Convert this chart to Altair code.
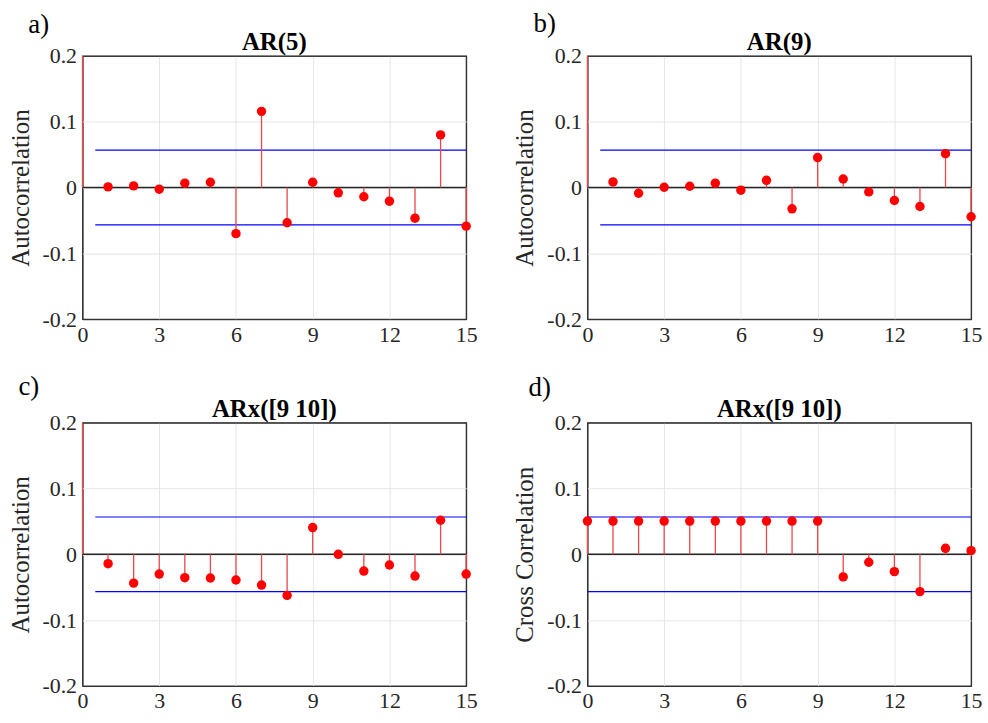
import altair as alt
import pandas as pd

lags = list(range(0, 16))

# lag 0 autocorrelation is 1 (clipped by the axis limits)
acf_ar5 = [1.0, 0.001, 0.0025, -0.0025, 0.0066, 0.008, -0.070, 0.1157, -0.0535,
           0.008, -0.008, -0.014, -0.0207, -0.0465, 0.080, -0.0586]
acf_ar9 = [1.0, 0.0086, -0.0086, 0.0005, 0.002, 0.0066, -0.004, 0.011, -0.0323,
           0.0455, 0.013, -0.0066, -0.0197, -0.0288, 0.0515, -0.0444]
acf_arx = [1.0, -0.0142, -0.0437, -0.030, -0.0355, -0.036, -0.039, -0.0467, -0.0624,
           0.0406, 0.0, -0.0254, -0.0162, -0.033, 0.0518, -0.030]
xcf_arx = [0.0505, 0.0505, 0.0505, 0.0505, 0.0505, 0.0505, 0.0505, 0.0505, 0.0505,
           0.0505, -0.0343, -0.0121, -0.0263, -0.0566, 0.0091, 0.0056]

bound = 0.0567
bound_x_start = [0.5, 0.5, 0.5, 0.0]

panel_letters = ["a)", "b)", "c)", "d)"]
panel_titles = ["AR(5)", "AR(9)", "ARx([9 10])", "ARx([9 10])"]
y_titles = ["Autocorrelation", "Autocorrelation", "Autocorrelation", "Cross Correlation"]
series = [acf_ar5, acf_ar9, acf_arx, xcf_arx]
letter_offsets = [(-44, -31), (-43, -32), (-54, -36), (-48, -35)]

x_ticks = [0, 3, 6, 9, 12, 15]
y_ticks = [-0.2, -0.1, 0, 0.1, 0.2]

FONT = "Liberation Serif"
W, H = 386, 265
FRAME = "#333333"
GRID = "#e6e6e6"
Y_MAX = 0.2

ylabel_expr = ("datum.value == 0 ? '0' : (datum.value < 0 ? '-' + format(-datum.value, '.1f') "
               ": format(datum.value, '.1f'))")


def panel(i):
    df = pd.DataFrame({"lag": lags, "value": series[i], "zero": [0.0] * len(lags)})
    xs = alt.Scale(domain=[0, 15], nice=False, zero=False)
    ys = alt.Scale(domain=[-0.2, 0.2], nice=False)
    x_axis = alt.Axis(values=x_ticks, title=None, labelFont=FONT, labelFontSize=22,
                      labelColor="#262626", grid=True,
                      gridColor=alt.condition("datum.value == 0 || datum.value == 15",
                                              alt.value(FRAME), alt.value(GRID)),
                      ticks=False, domain=False, labelPadding=5, labelFlush=False)
    y_axis = alt.Axis(values=y_ticks, title=y_titles[i], titleFont=FONT, titleFontSize=25,
                      titleFontWeight="normal", titleColor="#262626", titlePadding=9,
                      labelFont=FONT, labelFontSize=22, labelColor="#262626",
                      labelExpr=ylabel_expr, grid=True,
                      gridColor=alt.condition("abs(datum.value) > 0.15",
                                              alt.value(FRAME), alt.value(GRID)),
                      ticks=False, domain=False, labelPadding=6, labelFlush=False)

    base = alt.Chart(df)
    grid = base.mark_point(opacity=0).encode(
        x=alt.X("lag:Q", scale=xs, axis=x_axis),
        y=alt.Y("value:Q", scale=ys, axis=y_axis),
    ).transform_filter(f"datum.value <= {Y_MAX}")

    bdf = pd.DataFrame({"x0": [bound_x_start[i]] * 2, "x1": [15, 15], "b": [bound, -bound]})
    bounds = alt.Chart(bdf).mark_rule(color="#0000ff", strokeWidth=1.2).encode(
        x=alt.X("x0:Q", scale=xs), x2="x1:Q", y=alt.Y("b:Q", scale=ys))

    zdf = pd.DataFrame({"x0": [0], "x1": [15], "z": [0.0]})
    zline = alt.Chart(zdf).mark_rule(color="#262626", strokeWidth=1.6).encode(
        x=alt.X("x0:Q", scale=xs), x2="x1:Q", y=alt.Y("z:Q", scale=ys))

    stems = base.transform_calculate(
        vclip=f"min(datum.value, {Y_MAX})"
    ).mark_rule(color="#e8474c", strokeWidth=1.3).encode(
        x=alt.X("lag:Q", scale=xs), y=alt.Y("zero:Q", scale=ys), y2="vclip:Q")

    dots = base.mark_circle(color="#ff0000", opacity=1, size=90).encode(
        x=alt.X("lag:Q", scale=xs), y=alt.Y("value:Q", scale=ys)
    ).transform_filter(f"datum.value <= {Y_MAX}")

    ldf = pd.DataFrame({"t": [panel_letters[i]], "title": [panel_titles[i]]})
    dx, dy = letter_offsets[i]
    letter = alt.Chart(ldf).mark_text(font=FONT, fontSize=27, color="#000000",
                                      align="center", baseline="middle").encode(
        text="t:N", x=alt.value(dx), y=alt.value(dy))
    title = alt.Chart(ldf).mark_text(font=FONT, fontSize=25, fontWeight="bold",
                                     color="#000000", align="center",
                                     baseline="alphabetic").encode(
        text="title:N", x=alt.value(W / 2), y=alt.value(-6))

    return alt.layer(grid, bounds, zline, stems, dots, letter, title).properties(
        width=W, height=H)


chart = alt.concat(
    panel(0), panel(1), panel(2), panel(3), columns=2,
    spacing=alt.RowColnumber(row=104, column=122), bounds="flush",
).configure_view(
    stroke=FRAME, strokeWidth=1.3
).properties(padding={"left": 7, "top": 7, "right": 5, "bottom": 5})

chart.save("out.html", embed_options={"renderer": "svg", "actions": False})
